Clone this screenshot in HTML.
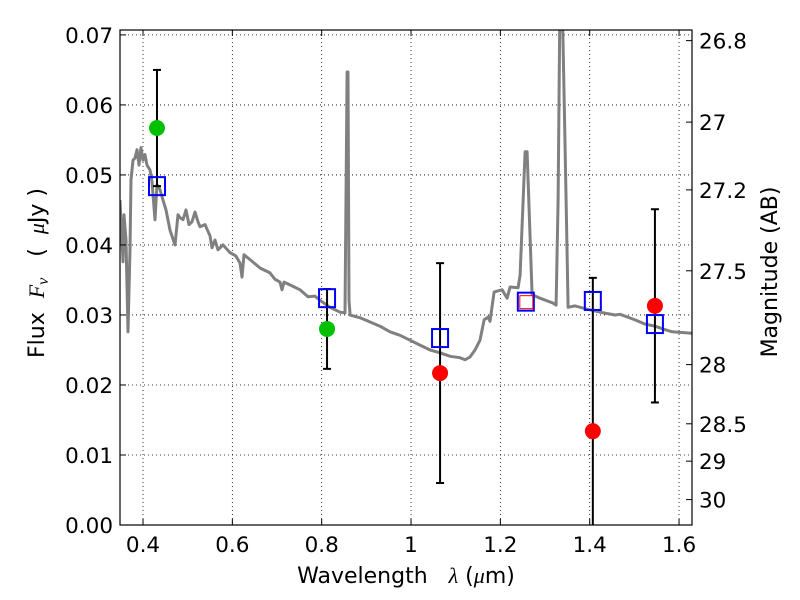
<!DOCTYPE html>
<html><head><meta charset="utf-8"><style>
html,body{margin:0;padding:0;background:#fff;width:800px;height:600px;overflow:hidden}
svg text{font-family:"DejaVu Sans","Liberation Sans",sans-serif;fill:#000;white-space:pre}
</style></head><body>
<svg id="chart" width="800" height="600" viewBox="0 0 800 600">
<defs><clipPath id="clip"><rect x="120" y="30" width="572" height="495"/></clipPath></defs>
<g id="grid"></g>
<g id="marks" clip-path="url(#clip)"></g>
<rect x="120" y="30" width="572" height="495" fill="none" stroke="#000" stroke-width="1.2"/>
<g id="axes"></g>
<text x="0" y="0" transform="translate(44,273) rotate(-90)" text-anchor="middle" font-size="22" xml:space="preserve">Flux  <tspan font-family="Liberation Serif" font-style="italic">F<tspan font-size="16" dy="4">ν</tspan></tspan><tspan dy="-4">   (  </tspan><tspan font-family="Liberation Serif" font-style="italic">μ</tspan>Jy )</text>
<text x="0" y="0" transform="translate(777,272) rotate(-90)" text-anchor="middle" font-size="22">Magnitude (AB)</text>
<text x="406" y="583" text-anchor="middle" font-size="22" xml:space="preserve">Wavelength   <tspan font-family="Liberation Serif" font-style="italic">λ</tspan> (<tspan font-family="Liberation Serif" font-style="italic">μ</tspan>m)</text>
</svg>
<script>
const specLam=[0.3485,0.3552,0.3575,0.3619,0.3664,0.3709,0.3731,0.3776,0.3821,0.3866,0.3910,0.3955,0.4000,0.4045,0.4090,0.4157,0.4202,0.4269,0.4313,0.4381,0.4448,0.4515,0.4605,0.4716,0.4784,0.4828,0.4896,0.4963,0.5030,0.5097,0.5164,0.5231,0.5276,0.5388,0.5500,0.5545,0.5612,0.5679,0.5791,0.5948,0.6082,0.6172,0.6217,0.6261,0.6396,0.6620,0.6844,0.6956,0.7067,0.7112,0.7157,0.7291,0.7515,0.7694,0.7851,0.7963,0.8187,0.8411,0.8523,0.8568,0.8590,0.8612,0.8635,0.8859,0.9083,0.9306,0.9530,0.9754,0.9978,1.0202,1.0426,1.0650,1.0874,1.1097,1.1209,1.1321,1.1433,1.1545,1.1635,1.1725,1.1769,1.1859,1.2038,1.2150,1.2217,1.2396,1.2441,1.2553,1.2598,1.2710,1.2889,1.3180,1.3247,1.3292,1.3336,1.3381,1.3471,1.3516,1.3672,1.3896,1.4232,1.4568,1.4680,1.5016,1.5240,1.5463,1.5687,1.5844,1.6292];
const specFlux=[0.0464,0.0376,0.0443,0.0407,0.0276,0.0393,0.0493,0.0521,0.0524,0.0536,0.0514,0.0539,0.0521,0.0529,0.0514,0.0507,0.0490,0.0436,0.0486,0.0479,0.0464,0.0450,0.0421,0.0400,0.0443,0.0439,0.0436,0.0450,0.0429,0.0433,0.0447,0.0433,0.0426,0.0429,0.0413,0.0396,0.0407,0.0393,0.0400,0.0389,0.0384,0.0374,0.0354,0.0386,0.0379,0.0367,0.0360,0.0351,0.0347,0.0336,0.0347,0.0343,0.0336,0.0326,0.0327,0.0321,0.0311,0.0304,0.0303,0.0647,0.0647,0.0321,0.0300,0.0296,0.0290,0.0284,0.0276,0.0271,0.0264,0.0257,0.0250,0.0246,0.0241,0.0239,0.0236,0.0240,0.0250,0.0264,0.0293,0.0297,0.0291,0.0333,0.0336,0.0324,0.0340,0.0339,0.0357,0.0533,0.0533,0.0329,0.0324,0.0317,0.0314,0.0464,0.0760,0.0760,0.0464,0.0311,0.0313,0.0309,0.0304,0.0300,0.0301,0.0293,0.0287,0.0284,0.0279,0.0276,0.0274];
const modelLam=[0.4313,0.812,1.065,1.257,1.407,1.546];
const modelFlux=[0.0484,0.0324,0.0267,0.0319,0.0320,0.0287];
const greenLam=[0.4313,0.812];
const greenFlux=[0.0567,0.0280];
const greenErr=[0.0083,0.0057];
const redLam=[1.065,1.407,1.546];
const redFlux=[0.0217,0.0134,0.0313];
const redErr=[0.0157,0.0219,0.0138];
const redSqLam=[1.257];
const redSqFlux=[0.0319];
const xTicks=[0.4,0.6,0.8,1.0,1.2,1.4,1.6];
const xTickLabels=["0.4","0.6","0.8","1","1.2","1.4","1.6"];
const yTicks=[0,0.01,0.02,0.03,0.04,0.05,0.06,0.07];
const yTickLabels=["0.00","0.01","0.02","0.03","0.04","0.05","0.06","0.07"];
const magTicks=[26.8,27,27.2,27.5,28,28.5,29,30];
const magLabels=["26.8","27","27.2","27.5","28","28.5","29","30"];

const NS="http://www.w3.org/2000/svg";
const X0=120,X1=692,Y0=525,Y1=30,LMIN=0.3485,LMAX=1.629,FMIN=0,FMAX=0.0707;
const sx=v=>X0+(v-LMIN)/(LMAX-LMIN)*(X1-X0);
const sy=v=>Y0-(v-FMIN)/(FMAX-FMIN)*(Y0-Y1);
const magToFlux=m=>Math.pow(10,-0.4*(m-23.9));
function mk(tag,attrs,parent){const e=document.createElementNS(NS,tag);for(const k in attrs)e.setAttribute(k,attrs[k]);parent.appendChild(e);return e;}
const grid=document.getElementById('grid'),marks=document.getElementById('marks'),axes=document.getElementById('axes');
const FS=21.5;
xTicks.forEach((t,i)=>{
  const x=sx(t);
  const g=mk('line',{x1:x,x2:x,y1:Y1,y2:Y0,stroke:'#000','stroke-width':0.8,'stroke-dasharray':'1,3'},grid);
  
  
  mk('line',{x1:x,x2:x,y1:Y0,y2:Y0-6,stroke:'#000'},axes);
  mk('line',{x1:x,x2:x,y1:Y1,y2:Y1+6,stroke:'#000'},axes);
  const tx=mk('text',{x:x,y:Y0+27,'text-anchor':'middle','font-size':FS},axes);
  tx.textContent=xTickLabels[i];
  
  
});
yTicks.forEach((t,i)=>{
  const y=sy(t);
  const g=mk('line',{x1:X0,x2:X1,y1:y,y2:y,stroke:'#000','stroke-width':0.8,'stroke-dasharray':'1,3'},grid);
  
  
  mk('line',{x1:X0,x2:X0+6,y1:y,y2:y,stroke:'#000'},axes);
  const tx=mk('text',{x:X0-7,y:y+8,'text-anchor':'end','font-size':FS},axes);
  tx.textContent=yTickLabels[i];
  
  
});
magTicks.forEach((m,i)=>{
  const y=sy(magToFlux(m));
  mk('line',{x1:X1,x2:X1-6,y1:y,y2:y,stroke:'#000'},axes);
  const tx=mk('text',{x:X1+7,y:y+8,'text-anchor':'start','font-size':FS},axes);
  tx.textContent=magLabels[i];
  
  
});

const pts=specLam.map((l,i)=>sx(l).toFixed(1)+','+sy(specFlux[i]).toFixed(1)).join(' ');
const sp=mk('polyline',{points:pts,fill:'none',stroke:'#808080','stroke-width':3,'stroke-linejoin':'round'},marks);



function errbar(l,f,e,name){
  const x=sx(l);
  const g=mk('g',{},marks);
  
  
  mk('line',{x1:x,x2:x,y1:sy(f+e),y2:sy(f-e),stroke:'#000','stroke-width':2},g);
  mk('line',{x1:x-4,x2:x+4,y1:sy(f+e),y2:sy(f+e),stroke:'#000','stroke-width':2},g);
  mk('line',{x1:x-4,x2:x+4,y1:sy(f-e),y2:sy(f-e),stroke:'#000','stroke-width':2},g);
}
greenLam.forEach((l,i)=>errbar(l,greenFlux[i],greenErr[i],'green-error-bar'));
redLam.forEach((l,i)=>errbar(l,redFlux[i],redErr[i],'red-error-bar'));
greenLam.forEach((l,i)=>{
  const c=mk('circle',{cx:sx(l),cy:sy(greenFlux[i]),r:8,fill:'#00c000'},marks);
  
  
});
redLam.forEach((l,i)=>{
  const c=mk('circle',{cx:sx(l),cy:sy(redFlux[i]),r:8,fill:'#ff0000'},marks);
  
  
});
modelLam.forEach((l,i)=>{
  const r=mk('rect',{x:sx(l)-8,y:sy(modelFlux[i])-9,width:16,height:18,fill:'none',stroke:'#0000ff','stroke-width':2},marks);
  
  
});
redSqLam.forEach((l,i)=>{
  const r=mk('rect',{x:sx(l)-6,y:sy(redSqFlux[i])-6,width:13,height:13,fill:'none',stroke:'#ff0000','stroke-width':1},marks);
  
  
});
</script>
</body></html>
